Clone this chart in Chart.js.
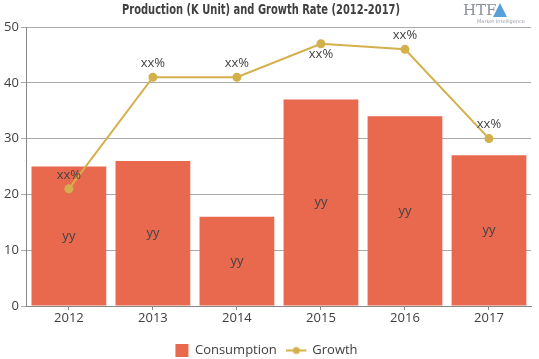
<!DOCTYPE html>
<html>
<head>
<meta charset="utf-8">
<script src="https://cdn.jsdelivr.net/npm/chart.js@4"></script>
<style>
  html, body { margin: 0; padding: 0; background: #fff; }
  #wrap { width: 539px; height: 359px; }
</style>
</head>
<body>
<div id="wrap"><canvas id="chart"></canvas></div>
<script>
const years = ["2012", "2013", "2014", "2015", "2016", "2017"];
const consumption = [25, 26, 16, 37, 34, 27];
const growth = [21, 41, 41, 47, 46, 30];
const barLabels = ["yy", "yy", "yy", "yy", "yy", "yy"];
const growthLabels = ["xx%", "xx%", "xx%", "xx%", "xx%", "xx%"];
const growthBelow = [false, false, false, true, false, false];

const BAR_COLOR = "#E8694E";
const LINE_COLOR = "#D4B04C";
const TEXT = "#404040";

// legend swatch for the line series: short line with a dot,
// transparent on the right so the text sits close to it
const lineSwatch = document.createElement("canvas");
lineSwatch.width = 26;
lineSwatch.height = 10;
(() => {
  const c = lineSwatch.getContext("2d");
  c.strokeStyle = LINE_COLOR;
  c.lineWidth = 2;
  c.beginPath();
  c.moveTo(0, 5);
  c.lineTo(20, 5);
  c.stroke();
  c.fillStyle = LINE_COLOR;
  c.beginPath();
  c.arc(10, 5, 3.5, 0, Math.PI * 2);
  c.fill();
})();

const extras = {
  id: "extras",
  afterDatasetsDraw(chart) {
    const ctx = chart.ctx;
    ctx.save();
    ctx.textAlign = "center";
    ctx.textBaseline = "middle";
    ctx.font = "13px 'Open Sans'";
    ctx.fillStyle = "#444";

    // dataset 0 = line, dataset 1 = bars
    chart.getDatasetMeta(1).data.forEach((bar, i) => {
      const mid = (bar.y + bar.base) / 2;
      ctx.fillText(barLabels[i], bar.x, mid);
    });
    chart.getDatasetMeta(0).data.forEach((pt, i) => {
      const y = growthBelow[i] ? pt.y + 11 : pt.y - 14;
      ctx.fillText(growthLabels[i], pt.x, y);
    });
    ctx.restore();
  },
  afterDraw(chart) {
    const ctx = chart.ctx;
    ctx.save();
    // title: heavy font squeezed horizontally to the reference width
    const title = "Production (K Unit) and Growth Rate (2012-2017)";
    ctx.textAlign = "center";
    ctx.textBaseline = "middle";
    ctx.fillStyle = TEXT;
    ctx.font = "bold 14px 'DejaVu Sans'";
    const sx = 278 / ctx.measureText(title).width;
    ctx.translate(261, 10);
    ctx.scale(sx, 1);
    ctx.fillText(title, 0, 0);
    ctx.setTransform(1, 0, 0, 1, 0, 0);
    // logo
    ctx.fillStyle = "#8a8f99";
    ctx.font = "15px 'DejaVu Serif'";
    ctx.textAlign = "left";
    ctx.fillText("HTF", 463, 11);
    ctx.fillStyle = "#5aa0d8";
    ctx.beginPath();
    ctx.moveTo(500, 3);
    ctx.lineTo(507, 17);
    ctx.lineTo(493, 17);
    ctx.closePath();
    ctx.fill();
    ctx.fillStyle = "#9a9fa8";
    ctx.font = "5px 'DejaVu Sans'";
    ctx.fillText("Market Intelligence", 477, 22);
    ctx.restore();
  }
};

new Chart(document.getElementById("chart"), {
  data: {
    labels: years,
    datasets: [
      {
        type: "line",
        label: "Growth",
        data: growth,
        borderColor: LINE_COLOR,
        backgroundColor: LINE_COLOR,
        borderWidth: 2,
        pointRadius: 3.5,
        pointHoverRadius: 3.5,
        tension: 0,
        order: 0
      },
      {
        type: "bar",
        label: "Consumption",
        data: consumption,
        backgroundColor: BAR_COLOR,
        barPercentage: 0.89,
        categoryPercentage: 1,
        order: 1
      }
    ]
  },
  options: {
    responsive: true,
    maintainAspectRatio: false,
    animation: false,
    layout: { padding: { top: 27, left: 2, right: 8, bottom: -8 } },
    plugins: {
      tooltip: { enabled: false },
      legend: {
        position: "bottom",
        reverse: true,
        labels: {
          color: TEXT,
          font: { family: "'Open Sans'", size: 13 },
          usePointStyle: true,
          padding: 16,
          generateLabels(chart) {
            const items = Chart.defaults.plugins.legend.labels.generateLabels(chart);
            items.forEach((it) => {
              if (it.text === "Growth") {
                it.pointStyle = lineSwatch;
              } else {
                it.pointStyle = "rect";
                it.fillStyle = BAR_COLOR;
                it.strokeStyle = BAR_COLOR;
              }
            });
            return items;
          }
        }
      }
    },
    scales: {
      x: {
        afterFit(scale) { scale.height = 22; },
        grid: {
          display: true,
          drawOnChartArea: false,
          offset: false,
          tickLength: 4,
          color: "#888"
        },
        border: { color: "#888" },
        ticks: { color: TEXT, font: { family: "'Open Sans'", size: 13 }, padding: 0 }
      },
      y: {
        min: 0,
        max: 50,
        ticks: { stepSize: 10, color: TEXT, font: { family: "'Open Sans'", size: 13 }, padding: 2 },
        grid: { color: "#aaa", tickLength: 6 },
        border: { color: "#888" }
      }
    }
  },
  plugins: [extras]
});
</script>
</body>
</html>
